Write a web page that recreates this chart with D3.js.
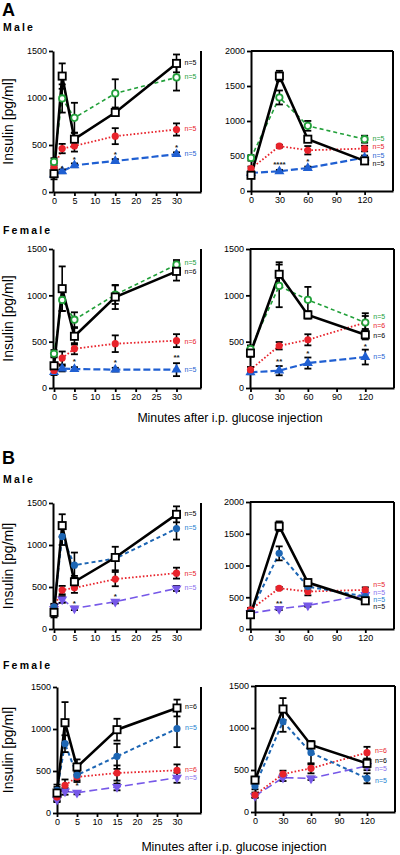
<!DOCTYPE html>
<html><head><meta charset="utf-8">
<script src="https://cdn.jsdelivr.net/npm/d3@7"></script>
<style>
body{margin:0;background:#fff;}
svg{display:block;font-family:"Liberation Sans",Arial,sans-serif;}
</style></head>
<body><svg id="c" width="400" height="855"></svg>
<script>
// ---------- DATA ----------
const timesShort = [0, 2, 5, 15, 30];
const timesLong = [0, 30, 60, 120];
const xTicksShort = [0, 5, 10, 15, 20, 25, 30];
const xTicksLong = [0, 30, 60, 90, 120];
const yTicks1500 = [0, 500, 1000, 1500];
const yTicks2000 = [0, 500, 1000, 1500, 2000];

// A Male, 0-30 min
const aMaleS_black = [195, 1233, 562, 846, 1368], aMaleS_blackErr = [60, 135, 70, 30, 95];
const aMaleS_green = [320, 995, 789, 1049, 1219], aMaleS_greenErr = [40, 150, 160, 150, 140];
const aMaleS_red = [260, 462, 490, 594, 665], aMaleS_redErr = [40, 50, 60, 85, 65];
const aMaleS_blue = [185, 220, 284, 330, 402], aMaleS_blueErr = [20, 20, 20, 20, 20];
// A Male, 0-120 min
const aMaleL_black = [224, 1642, 740, 430], aMaleL_blackErr = [30, 75, 40, 30];
const aMaleL_green = [473, 1336, 931, 740], aMaleL_greenErr = [40, 100, 70, 50];
const aMaleL_red = [320, 640, 582, 606], aMaleL_redErr = [30, 20, 60, 40];
const aMaleL_blue = [258, 282, 329, 477], aMaleL_blueErr = [20, 20, 20, 30];
// A Female, 0-30 min
const aFemS_black = [240, 1072, 558, 982, 1259], aFemS_blackErr = [100, 240, 90, 130, 100];
const aFemS_green = [370, 950, 737, 1007, 1331], aFemS_greenErr = [40, 120, 80, 100, 50];
const aFemS_red = [190, 324, 424, 478, 511], aFemS_redErr = [40, 70, 60, 90, 70];
const aFemS_blue = [173, 209, 205, 198, 198], aFemS_blueErr = [20, 30, 20, 20, 70];
// A Female, 0-120 min
const aFemL_black = [377, 1227, 789, 574], aFemL_blackErr = [40, 130, 40, 50];
const aFemL_green = [420, 1102, 951, 707], aFemL_greenErr = [40, 230, 140, 100];
const aFemL_red = [197, 456, 520, 707], aFemL_redErr = [30, 40, 60, 70];
const aFemL_blue = [169, 187, 269, 334], aFemL_blueErr = [20, 50, 60, 80];
// B Male, 0-30 min
const bMaleS_black = [198, 1231, 562, 851, 1365], bMaleS_blackErr = [60, 135, 70, 30, 95];
const bMaleS_blue = [265, 1100, 760, 839, 1195], bMaleS_blueErr = [30, 100, 150, 140, 130];
const bMaleS_red = [260, 463, 490, 594, 665], bMaleS_redErr = [40, 50, 60, 85, 65];
const bMaleS_purple = [240, 352, 245, 325, 483], bMaleS_purpleErr = [30, 40, 20, 20, 30];
// B Male, 0-120 min
const bMaleL_black = [225, 1619, 731, 444], bMaleL_blackErr = [30, 75, 40, 30];
const bMaleL_blue = [260, 1191, 668, 512], bMaleL_blueErr = [30, 110, 60, 40];
const bMaleL_red = [303, 642, 590, 616], bMaleL_redErr = [30, 20, 60, 40];
const bMaleL_purple = [250, 318, 371, 538], bMaleL_purpleErr = [20, 20, 20, 30];
// B Female, 0-30 min
const bFemS_black = [238, 1075, 548, 992, 1250], bFemS_blackErr = [100, 245, 90, 130, 100];
const bFemS_blue = [270, 825, 450, 675, 1004], bFemS_blueErr = [40, 100, 60, 150, 220];
const bFemS_red = [190, 329, 429, 476, 508], bFemS_redErr = [40, 70, 60, 90, 70];
const bFemS_purple = [160, 258, 242, 310, 420], bFemS_purpleErr = [30, 40, 20, 40, 60];
// B Female, 0-120 min
const bFemL_black = [380, 1226, 798, 579], bFemL_blackErr = [40, 130, 40, 50];
const bFemL_blue = [310, 1075, 706, 401], bFemL_blueErr = [40, 120, 140, 60];
const bFemL_red = [202, 452, 520, 706], bFemL_redErr = [30, 40, 60, 70];
const bFemL_purple = [190, 409, 401, 548], bFemL_purpleErr = [20, 40, 20, 50];

// n labels: [series, text, value at which label sits]
const aMaleS_n = [["black","n=5",1372],["green","n=5",1223],["red","n=5",670],["blue","n=5",404]];
const aMaleL_n = [["green","n=5",743],["red","n=5",629],["blue","n=5",500],["black","n=5",386]];
const aFemS_n = [["green","n=5",1349],["black","n=6",1252],["red","n=6",496],["blue","n=5",194]];
const aFemL_n = [["green","n=5",766],["red","n=6",669],["black","n=6",561],["blue","n=5",335]];
const bMaleS_n = [["black","n=5",1369],["bblue","n=5",1202],["red","n=5",655],["purple","n=5",488]];
const bMaleL_n = [["red","n=5",690],["purple","n=5",576],["bblue","n=5",462],["black","n=5",348]];
const bFemS_n = [["black","n=6",1262],["bblue","n=5",1012],["red","n=6",520],["purple","n=5",425]];
const bFemL_n = [["red","n=6",726],["black","n=6",607],["purple","n=5",512],["bblue","n=5",369]];

// significance marks: [time, value, text]
const aMaleS_sig = [[2,267,"*"],[5,366,"*"],[15,416,"*"],[30,487,"*"]];
const aMaleL_sig = [[30,401,"****"],[60,439,"*"]];
const aFemS_sig = [[5,306,"*"],[15,288,"*"],[30,342,"**"]];
const aFemL_sig = [[30,305,"**"],[60,384,"*"],[120,466,"*"]];
const bMaleS_sig = [[5,325,"*"],[15,404,"*"]];
const bMaleL_sig = [[30,418,"**"]];
const bFemS_sig = [[5,349,"*"],[15,369,"*"]];
const bFemL_sig = [];

// ---------- STYLES ----------
const style = {
  black:  {color:"#000000", dash:null,  width:2.6, marker:"square"},
  green:  {color:"#22a03a", dash:"4,3", width:1.6, marker:"ocircle"},
  red:    {color:"#e8232b", dash:"1.6,2", width:1.8, marker:"circle"},
  blue:   {color:"#1f5fd2", dash:"7,3", width:2.2, marker:"triangle"},
  bblue:  {color:"#1d66b4", dash:"4,3", width:2.0, marker:"circle"},
  purple: {color:"#7658e8", dash:"8,4", width:1.6, marker:"itriangle"}
};
const labelColor = {black:"#000", green:"#22a03a", red:"#e8232b", blue:"#1f5fd2", bblue:"#1d7fd0", purple:"#8a70ee"};

const S = (t, m, e) => ({key:t, m, e});
const panels = [
  {L:{x0:53,x1:201,yt:51,yb:192,xd:[-0.25,36],ym:1500,top:false}, t:timesShort, xt:xTicksShort, yt:yTicks1500,
   s:[S("blue",aMaleS_blue,aMaleS_blueErr),S("red",aMaleS_red,aMaleS_redErr),S("green",aMaleS_green,aMaleS_greenErr),S("black",aMaleS_black,aMaleS_blackErr)], n:aMaleS_n, sig:aMaleS_sig},
  {L:{x0:251,x1:393,yt:51,yb:191,xd:[0,150],ym:2000,top:true}, t:timesLong, xt:xTicksLong, yt:yTicks2000,
   s:[S("blue",aMaleL_blue,aMaleL_blueErr),S("red",aMaleL_red,aMaleL_redErr),S("green",aMaleL_green,aMaleL_greenErr),S("black",aMaleL_black,aMaleL_blackErr)], n:aMaleL_n, sig:aMaleL_sig},
  {L:{x0:53,x1:201,yt:249,yb:388,xd:[-0.25,36],ym:1500,top:false}, t:timesShort, xt:xTicksShort, yt:yTicks1500,
   s:[S("blue",aFemS_blue,aFemS_blueErr),S("red",aFemS_red,aFemS_redErr),S("green",aFemS_green,aFemS_greenErr),S("black",aFemS_black,aFemS_blackErr)], n:aFemS_n, sig:aFemS_sig},
  {L:{x0:250,x1:394,yt:249,yb:388,xd:[-0.5,150],ym:1500,top:true}, t:timesLong, xt:xTicksLong, yt:yTicks1500,
   s:[S("blue",aFemL_blue,aFemL_blueErr),S("red",aFemL_red,aFemL_redErr),S("green",aFemL_green,aFemL_greenErr),S("black",aFemL_black,aFemL_blackErr)], n:aFemL_n, sig:aFemL_sig},
  {L:{x0:53,x1:201,yt:503,yb:629,xd:[-0.25,36],ym:1500,top:false}, t:timesShort, xt:xTicksShort, yt:yTicks1500,
   s:[S("purple",bMaleS_purple,bMaleS_purpleErr),S("red",bMaleS_red,bMaleS_redErr),S("bblue",bMaleS_blue,bMaleS_blueErr),S("black",bMaleS_black,bMaleS_blackErr)], n:bMaleS_n, sig:bMaleS_sig},
  {L:{x0:250,x1:394,yt:502,yb:629,xd:[-0.5,150],ym:2000,top:true}, t:timesLong, xt:xTicksLong, yt:yTicks2000,
   s:[S("purple",bMaleL_purple,bMaleL_purpleErr),S("red",bMaleL_red,bMaleL_redErr),S("bblue",bMaleL_blue,bMaleL_blueErr),S("black",bMaleL_black,bMaleL_blackErr)], n:bMaleL_n, sig:bMaleL_sig},
  {L:{x0:57,x1:201,yt:687,yb:813,xd:[0,36],ym:1500,top:false}, t:timesShort, xt:xTicksShort, yt:yTicks1500,
   s:[S("purple",bFemS_purple,bFemS_purpleErr),S("red",bFemS_red,bFemS_redErr),S("bblue",bFemS_blue,bFemS_blueErr),S("black",bFemS_black,bFemS_blackErr)], n:bFemS_n, sig:bFemS_sig},
  {L:{x0:255,x1:395,yt:686,yb:812,xd:[0,150],ym:1500,top:true}, t:timesLong, xt:xTicksLong, yt:yTicks1500,
   s:[S("purple",bFemL_purple,bFemL_purpleErr),S("red",bFemL_red,bFemL_redErr),S("bblue",bFemL_blue,bFemL_blueErr),S("black",bFemL_black,bFemL_blackErr)], n:bFemL_n, sig:bFemL_sig}
];

const svg = d3.select("#c");

function marker(g, kind, color, cx, cy) {
  if (kind === "square") {
    g.append("rect").attr("x", cx-3.6).attr("y", cy-3.6).attr("width", 7.2).attr("height", 7.2)
      .attr("fill", "#fff").attr("stroke", "#000").attr("stroke-width", 1.8);
  } else if (kind === "ocircle") {
    g.append("circle").attr("cx", cx).attr("cy", cy).attr("r", 3.2)
      .attr("fill", "#fff").attr("stroke", color).attr("stroke-width", 1.8);
  } else if (kind === "circle") {
    g.append("circle").attr("cx", cx).attr("cy", cy).attr("r", 3.6).attr("fill", color);
  } else {
    const sym = d3.symbol().type(d3.symbolTriangle).size(44);
    g.append("path").attr("d", sym())
      .attr("transform", `translate(${cx},${cy})` + (kind === "itriangle" ? " rotate(180)" : ""))
      .attr("fill", color);
  }
}

panels.forEach(p => {
  const L = p.L;
  const x = d3.scaleLinear().domain(L.xd).range([L.x0, L.x1]);
  const y = d3.scaleLinear().domain([0, L.ym]).range([L.yb, L.yt]);
  const g = svg.append("g");

  // frame
  g.append("line").attr("x1", L.x1).attr("x2", L.x1).attr("y1", L.yt).attr("y2", L.yb)
    .attr("stroke", "#000").attr("stroke-width", 2);
  if (L.top) g.append("line").attr("x1", L.x0).attr("x2", L.x1).attr("y1", L.yt).attr("y2", L.yt)
    .attr("stroke", "#000").attr("stroke-width", 2);

  // axes
  const ay = g.append("g").attr("transform", `translate(${L.x0},0)`)
    .call(d3.axisLeft(y).tickValues(p.yt).tickFormat(d3.format("d")).tickSize(4).tickSizeOuter(0).tickPadding(2));
  const ax = g.append("g").attr("transform", `translate(0,${L.yb})`)
    .call(d3.axisBottom(x).tickValues(p.xt).tickFormat(d3.format("d")).tickSize(4).tickSizeOuter(0).tickPadding(2));
  [ax, ay].forEach(a => {
    a.select(".domain").attr("stroke-width", 2);
    a.selectAll(".tick line").attr("stroke-width", 1.8);
    a.selectAll(".tick text").attr("font-size", 9).attr("font-family", "Liberation Sans, Arial, sans-serif").attr("fill", "#000");
  });

  // lines
  p.s.forEach(s => {
    const st = style[s.key];
    const line = d3.line().x((d, i) => x(p.t[i])).y(d => y(d));
    g.append("path").datum(s.m).attr("d", line).attr("fill", "none")
      .attr("stroke", st.color).attr("stroke-width", st.width)
      .attr("stroke-dasharray", st.dash).attr("stroke-linejoin", "miter");
  });
  // error bars
  p.s.forEach(s => {
    s.m.forEach((v, i) => {
      const cx = x(p.t[i]), e = s.e[i];
      g.append("line").attr("x1", cx).attr("x2", cx).attr("y1", y(v - e)).attr("y2", y(v + e))
        .attr("stroke", "#000").attr("stroke-width", 1.6);
      [v - e, v + e].forEach(c => g.append("line").attr("x1", cx - 3.5).attr("x2", cx + 3.5)
        .attr("y1", y(c)).attr("y2", y(c)).attr("stroke", "#000").attr("stroke-width", 1.8));
    });
  });
  // markers
  p.s.forEach(s => {
    const st = style[s.key];
    s.m.forEach((v, i) => marker(g, st.marker, st.color, x(p.t[i]), y(v)));
  });
  // n labels
  p.n.forEach(([k, txt, v]) => {
    g.append("text").attr("x", x(p.t[p.t.length - 1]) + 8).attr("y", y(v) + 2.3)
      .attr("font-size", 7).attr("fill", labelColor[k]).text(txt);
  });
  // significance
  p.sig.forEach(([t, v, txt]) => {
    g.append("text").attr("x", x(t)).attr("y", y(v) + 4).attr("text-anchor", "middle")
      .attr("font-size", 8).attr("font-weight", "bold").attr("fill", "#222").text(txt);
  });
  // y title on left panels
  if (!L.top) {
    g.append("text").attr("transform", `translate(13,${(L.yt + L.yb) / 2}) rotate(-90)`)
      .attr("text-anchor", "middle").attr("font-size", 14).attr("fill", "#000").text("Insulin [pg/ml]");
  }
});

// panel letters and headings
svg.append("text").attr("x", 2).attr("y", 16).attr("font-size", 18).attr("font-weight", "bold").text("A");
svg.append("text").attr("x", 2).attr("y", 464).attr("font-size", 18).attr("font-weight", "bold").text("B");
[["Male", 31], ["Female", 234], ["Male", 483], ["Female", 669]].forEach(([t, yy]) =>
  svg.append("text").attr("x", 3).attr("y", yy).attr("font-size", 10.5).attr("font-weight", "bold")
    .attr("letter-spacing", 2.2).text(t));
[[230, 422], [234, 851]].forEach(([xx, yy]) =>
  svg.append("text").attr("x", xx).attr("y", yy).attr("text-anchor", "middle").attr("font-size", 12.3)
    .text("Minutes after i.p. glucose injection"));
</script></body></html>
